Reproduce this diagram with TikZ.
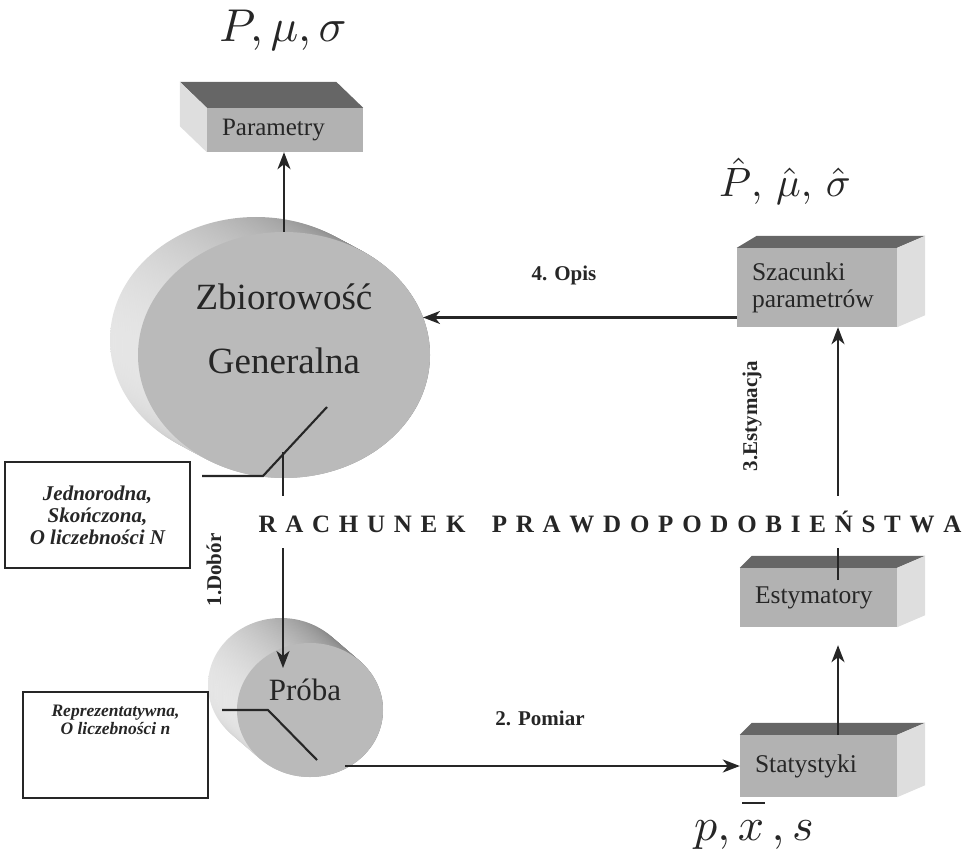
\documentclass[tikz,border=0pt]{standalone}
\usepackage{fontspec}
\setmainfont{Liberation Serif}
\usetikzlibrary{arrows.meta,shapes.geometric,calc}
\begin{document}
\begin{tikzpicture}[x=1pt,y=-1pt,
  conn/.style={line width=2.1pt, draw=black!85},
  arr/.style={conn, -{Stealth[length=17pt,width=13pt,inset=5pt]}},
  face/.style={rectangle, fill=black!30, draw=none, inner xsep=15pt, inner ysep=0pt, align=left, text=black!85},
  topf/.style={fill=black!60},
  sidef/.style={fill=black!13},
  note/.style={draw=black!85, line width=1.4pt, rectangle, inner sep=0pt, align=center, text=black!85},
  lab/.style={font=\bfseries\fontsize{21}{24}\selectfont, text=black!85},
  bigtxt/.style={text=black!85},
  sidesh/.style={left color=black!10, right color=black!55}
]
\useasboundingbox (0,0) rectangle (971,858);

% ---------- Parametry box ----------
\node[face, text width=126pt, minimum height=44pt, font=\fontsize{25}{27}\selectfont] (par) at (285,130) {Parametry};
\fill[topf] (par.north west) -- (par.north east) -- ($(par.north east)+(-27,-26)$) -- ($(par.north west)+(-27,-26)$) -- cycle;
\fill[sidef] (par.north west) -- ($(par.north west)+(-27,-26)$) -- ($(par.south west)+(-27,-26)$) -- (par.south west) -- cycle;

% ---------- right boxes ----------
\node[face, text width=130pt, minimum height=79pt, font=\fontsize{25.5}{27}\selectfont] (sz) at (817,287.5) {Szacunki\\parametrów};
\node[face, text width=127pt, minimum height=59pt, font=\fontsize{25.5}{27}\selectfont] (est) at (818.5,597.5) {Estymatory};
\node[face, text width=127pt, minimum height=62pt, font=\fontsize{25.5}{27}\selectfont] (stat) at (818.5,766) {Statystyki};
\foreach \b/\l in {sz/20,est/12,stat/12}{
  \fill[topf] (\b.north west) -- (\b.north east) -- ($(\b.north east)+(28,-12)$) -- ($(\b.north west)+(\l,-12)$) -- cycle;
  \fill[sidef] (\b.north east) -- ($(\b.north east)+(28,-12)$) -- ($(\b.south east)+(28,-12)$) -- (\b.south east) -- cycle;
}

% ---------- Zbiorowosc Generalna ----------
\foreach \i in {0,...,16}{
  \pgfmathsetmacro\t{1-\i/16}
  \shade[sidesh] ({284-28*\t},{355-15*\t}) ellipse [x radius=146pt, y radius=123pt];
}
\node[ellipse, fill=black!27, minimum width=292pt, minimum height=246pt, inner sep=0pt] (zg) at (284,355) {};
\node[bigtxt, anchor=base, font=\fontsize{37}{40}\selectfont] (zg1) at (284,310) {Zbiorowość};
\node[bigtxt, anchor=base, font=\fontsize{37}{40}\selectfont] (zg2) at (284,373) {Generalna};

% ---------- Proba ----------
\foreach \i in {0,...,16}{
  \pgfmathsetmacro\t{1-\i/16}
  \shade[sidesh] ({310-29*\t},{710-25*\t}) ellipse [x radius=73pt, y radius=67pt];
}
\node[ellipse, fill=black!27, minimum width=146pt, minimum height=134pt, inner sep=0pt] (pr) at (310,710) {};
\node[bigtxt, anchor=base, font=\fontsize{31}{32}\selectfont] (prt) at (305,700) {Próba};

% ---------- note boxes ----------
\node[note, minimum width=185pt, minimum height=106pt, font=\bfseries\itshape\fontsize{21}{22}\selectfont] (jb) at (97.5,515) {Jednorodna,\\Skończona,\\O liczebności N};
\node[note, minimum width=185pt, minimum height=106pt] (rb) at (115.5,745) {};
\node[bigtxt, align=center, font=\bfseries\itshape\fontsize{17.5}{18}\selectfont] (rbt) at (115.5,720) {Reprezentatywna,\\O liczebności n};

% ---------- connectors ----------
\coordinate (j1) at (202,476);
\coordinate (j2) at (263,476);
\coordinate (j3) at (327,407);
\draw[conn] (j1) -- (j2) -- (j3);

\coordinate (r1) at (222,710);
\coordinate (r2) at (268,710);
\coordinate (r3) at (317,760);
\draw[conn] (r1) -- (r2) -- (r3);

\draw[arr] (zg.north) -- (zg.north |- par.south);

\coordinate (o2) at (423,317.5);
\draw[arr] ([yshift=-30pt]sz.west) -- (o2);

\coordinate (d1) at (283,452);
\coordinate (d2) at (283,668);
\draw[arr] (d1) -- (d2);

\coordinate (p1) at (345,766);
\draw[arr] (p1) -- (stat.west);

\coordinate (ax) at (838,0);
\draw[arr, shorten >=18pt] (stat.north -| ax) -- (est.south -| ax);
\draw[arr] ([yshift=-12pt]est.north -| ax) -- (sz.south -| ax);

% ---------- labels ----------
\node[fill=white, inner sep=0pt, minimum height=52pt, font=\bfseries\fontsize{25}{26}\selectfont, text=black!85] (rp) at (610,522)
  {\makebox[703pt][s]{R\hfill A\hfill C\hfill H\hfill U\hfill N\hfill E\hfill K\hfill\hfill\hfill P\hfill R\hfill A\hfill W\hfill D\hfill O\hfill P\hfill O\hfill D\hfill O\hfill B\hfill I\hfill E\hfill Ń\hfill S\hfill T\hfill W\hfill A}};

\node[lab, rotate=90] (dl) at (214,570) {1.Dobór};
\node[lab, rotate=90] (el) at (752,416) {3.Estymacja};
\node[lab] (ol) at (564,275) {4. Opis};
\node[lab] (pl) at (540,718) {2. Pomiar};

% ---------- math labels ----------
\node[bigtxt, anchor=base, scale=4.6, inner sep=0pt] (m1) at (283,42) {$P, \mu, \sigma$};
\node[bigtxt, anchor=base, scale=4.1, inner sep=0pt] (m2) at (785,197) {$\hat{P},\,\hat{\mu},\,\hat{\sigma}$};
\node[bigtxt, anchor=base, scale=4.6, inner sep=0pt] (m3) at (754,840) {$p, x\,, s$};
\draw[line width=2.5pt, black!85] (742,803) -- (765,803);
\end{tikzpicture}
\end{document}
